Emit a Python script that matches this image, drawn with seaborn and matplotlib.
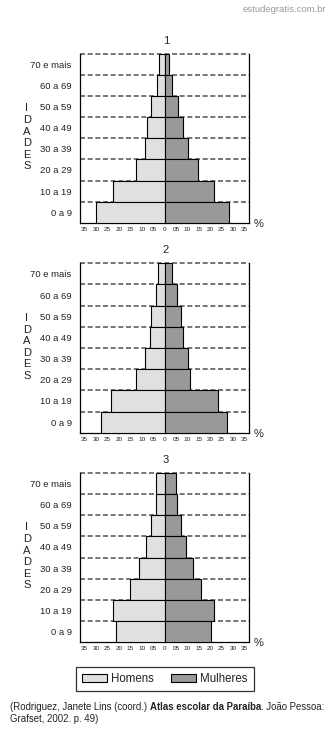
import matplotlib
matplotlib.use("Agg")
import matplotlib.pyplot as plt
import seaborn as sns
import pandas as pd

# Age groups, top to bottom
idades = ["70 e mais", "60 a 69", "50 a 59", "40 a 49", "30 a 39", "20 a 29", "10 a 19", "0 a 9"]

# Population share (%) per age group, top to bottom, for each pyramid
homens_1 = [2.1, 2.9, 5.4, 7.1, 8.0, 11.7, 21.2, 28.3]
mulheres_1 = [1.9, 3.3, 5.4, 7.5, 9.6, 13.7, 20.4, 26.7]
homens_2 = [2.5, 3.7, 5.4, 6.2, 8.0, 11.7, 22.1, 26.2]
mulheres_2 = [2.9, 5.0, 6.8, 7.5, 9.6, 10.4, 22.1, 25.8]
homens_3 = [3.7, 3.7, 5.4, 7.5, 10.4, 14.2, 21.2, 20.0]
mulheres_3 = [4.6, 5.0, 6.8, 8.7, 11.7, 15.0, 20.4, 19.2]

titulos = ["1", "2", "3"]
tick_vals = [-35, -30, -25, -20, -15, -10, -5, 0, 5, 10, 15, 20, 25, 30, 35]
tick_labels = ["35", "30", "25", "20", "15", "10", "05", "0", "05", "10", "15", "20", "25", "30", "35"]

cor_homens = "#e0e0e0"
cor_mulheres = "#999999"

sns.set_theme(style="white")
plt.rcParams["font.family"] = ["Liberation Sans", "DejaVu Sans"]

W, H = 331, 735
fig = plt.figure(figsize=(W / 100, H / 100), dpi=100)
fig.patch.set_facecolor("white")


def fx(px):
    return px / W


def fy(py):
    return 1 - py / H


# axes boxes in pixel coords: (top, bottom)
caixas = [(54, 222.7), (263.3, 432.7), (473.3, 641.7)]
dados = [(homens_1, mulheres_1), (homens_2, mulheres_2), (homens_3, mulheres_3)]
left_px, right_px = 80, 249

handles = None
for i, ((top, bot), (hom, mul)) in enumerate(zip(caixas, dados)):
    ax = fig.add_axes([fx(left_px), fy(bot), fx(right_px - left_px), (bot - top) / H])
    df = pd.DataFrame({
        "idade": idades * 2,
        "valor": [-v for v in hom] + list(mul),
        "sexo": ["Homens"] * len(idades) + ["Mulheres"] * len(idades),
    })
    sns.barplot(data=df, x="valor", y="idade", hue="sexo", order=idades,
                hue_order=["Homens", "Mulheres"], dodge=False, width=1.0,
                palette={"Homens": cor_homens, "Mulheres": cor_mulheres},
                edgecolor="black", linewidth=0.8, ax=ax, zorder=3)
    if handles is None:
        handles, labels = ax.get_legend_handles_labels()
    if ax.get_legend() is not None:
        ax.get_legend().remove()

    ax.set_xlim(-35, 35)
    ax.set_ylim(7.5, -0.5)
    # dashed row separators, including the top edge
    for yv in [-0.5, 0.5, 1.5, 2.5, 3.5, 4.5, 5.5, 6.5]:
        ax.axhline(yv, color="#5e5e5e", linestyle=(0, (3, 1.6)), linewidth=1.2, zorder=1,
                   clip_on=False)
    ax.spines["top"].set_visible(False)
    for s in ["left", "right", "bottom"]:
        ax.spines[s].set_visible(True)
        ax.spines[s].set_color("black")
        ax.spines[s].set_linewidth(0.9)
    ax.set_xticks([v * 0.945 for v in tick_vals])
    ax.set_xticklabels(tick_labels, fontsize=4.6, color="#222222")
    ax.tick_params(axis="x", length=0, pad=3)
    ax.tick_params(axis="y", length=0, pad=6, labelsize=6.8, labelcolor="#222222")
    for lab in ax.get_yticklabels():
        lab.set_y(lab.get_position()[1])
    ax.set_xlabel("")
    ax.set_ylabel("")
    ax.grid(False)

    # panel number
    fig.text(fx(166), fy(top - 13), titulos[i], ha="center", va="center", fontsize=8,
             color="#222222")
    # percent sign
    fig.text(fx(259), fy(bot + 1), "%", ha="center", va="center", fontsize=8,
             color="#222222")
    # vertical axis label written letter by letter
    meio = (top + bot) / 2
    for k, ch in enumerate("IDADES"):
        fig.text(fx(27), fy(meio - 30 + k * 11.6), ch, ha="center", va="center",
                 fontsize=8, color="#222222")

# legend
leg = fig.legend(handles, ["Homens", "Mulheres"], loc="center",
                 bbox_to_anchor=(fx(165), fy(679)), ncol=2, frameon=True,
                 fancybox=False, fontsize=8.3, handlelength=2.1, handleheight=0.8,
                 columnspacing=1.5, handletextpad=0.4, borderpad=0.55,
                 borderaxespad=0)
leg.get_frame().set_edgecolor("black")
leg.get_frame().set_linewidth(0.9)
for t in leg.get_texts():
    t.set_color("#222222")

# watermark
fig.text(fx(326), fy(9), "estudegratis.com.br", ha="right", va="center",
         fontsize=6.8, color="#9a9a9a")

# source note with a bold title segment
fig.canvas.draw()
renderer = fig.canvas.get_renderer()
partes = [("(Rodriguez, Janete Lins (coord.) ", "normal"),
          ("Atlas escolar da Paraíba", "bold"),
          (". João Pessoa:", "normal")]
x_px = 10
for texto, peso in partes:
    t = fig.text(fx(x_px), fy(707), texto, ha="left", va="center", fontsize=6.9,
                 fontweight=peso, color="#222222")
    bb = t.get_window_extent(renderer=renderer)
    x_px += bb.width
fig.text(fx(10), fy(718.5), "Grafset, 2002. p. 49)", ha="left", va="center",
         fontsize=6.9, color="#222222")

fig.savefig("out.png", dpi=100, facecolor="white")
